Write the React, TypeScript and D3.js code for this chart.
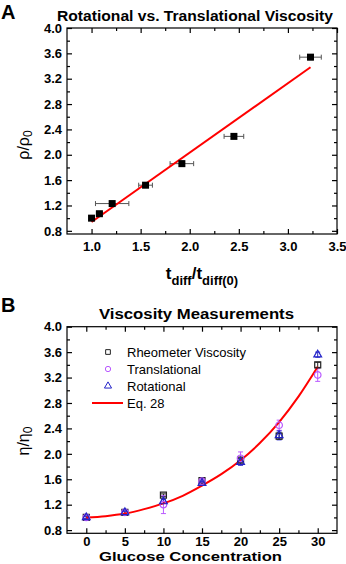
import React, { useEffect, useRef } from "react";
import * as d3 from "d3";

// panel A: rotational vs translational
const tRatio = [1.0, 1.08, 1.21, 1.55, 1.92, 2.45, 3.23];
const tRatioErr = [0.02, 0.03, 0.17, 0.07, 0.12, 0.1, 0.11];
const rhoRatio = [1.0, 1.07, 1.23, 1.52, 1.86, 2.29, 3.54];
const rhoErr = [0.02, 0.02, 0.03, 0.03, 0.04, 0.03, 0.04];
const fitX = [1.0, 3.23];
const fitY = [0.94, 3.38];

// panel B: viscosity measurements
const glucose = [0, 5, 10, 15, 20, 25, 30];
const rheometer = [1.0, 1.08, 1.35, 1.58, 1.9, 2.28, 3.4];
const rheometerErr = [0.02, 0.02, 0.02, 0.03, 0.03, 0.05, 0.04];
const translational = [1.0, 1.08, 1.2, 1.57, 1.93, 2.45, 3.24];
const translationalErr = [0.02, 0.02, 0.14, 0.03, 0.1, 0.08, 0.1];
const rotational = [1.0, 1.08, 1.25, 1.54, 1.87, 2.29, 3.56];
const rotationalErr = [0.02, 0.02, 0.03, 0.03, 0.05, 0.07, 0.04];
const eqX = [0, 2.5, 5, 7.5, 10, 12.5, 15, 17.5, 20, 22.5, 25, 27.5, 30];
const eqY = [1.0, 1.02, 1.06, 1.13, 1.22, 1.34, 1.5, 1.68, 1.9, 2.17, 2.5, 2.9, 3.37];

const yMajor = [0.8, 1.2, 1.6, 2.0, 2.4, 2.8, 3.2, 3.6, 4.0];
const yMinor = [1.0, 1.4, 1.8, 2.2, 2.6, 3.0, 3.4, 3.8];
const xMajorA = [1.0, 1.5, 2.0, 2.5, 3.0, 3.5];
const xMinorA = [1.25, 1.75, 2.25, 2.75, 3.25];
const xMajorB = [0, 5, 10, 15, 20, 25, 30];
const xMinorB = [2.5, 7.5, 12.5, 17.5, 22.5, 27.5];

const FONT = "'Liberation Sans', Arial, sans-serif";

function frame(g, x, y, xMajor, xMinor, xFmt, xPad) {
  const [x0, x1] = x.range();
  const [y0, y1] = y.range();
  g.append("rect").attr("x", x0).attr("y", y1).attr("width", x1 - x0).attr("height", y0 - y1)
    .attr("fill", "none").attr("stroke", "#000").attr("stroke-width", 1.2);

  const bottom = g.append("g").attr("transform", `translate(0,${y0})`)
    .call(d3.axisBottom(x).tickValues(xMajor).tickFormat(xFmt).tickSize(-5).tickPadding(xPad));
  g.append("g").attr("transform", `translate(0,${y0})`)
    .call(d3.axisBottom(x).tickValues(xMinor).tickFormat(() => "").tickSize(-3));
  g.append("g").attr("transform", `translate(0,${y1})`)
    .call(d3.axisTop(x).tickValues(xMajor).tickFormat(() => "").tickSize(-5));
  g.append("g").attr("transform", `translate(0,${y1})`)
    .call(d3.axisTop(x).tickValues(xMinor).tickFormat(() => "").tickSize(-3));

  const left = g.append("g").attr("transform", `translate(${x0},0)`)
    .call(d3.axisLeft(y).tickValues(yMajor).tickFormat(d3.format(".1f")).tickSize(-5).tickPadding(5));
  g.append("g").attr("transform", `translate(${x0},0)`)
    .call(d3.axisLeft(y).tickValues(yMinor).tickFormat(() => "").tickSize(-3));
  g.append("g").attr("transform", `translate(${x1},0)`)
    .call(d3.axisRight(y).tickValues(yMajor).tickFormat(() => "").tickSize(-5));
  g.append("g").attr("transform", `translate(${x1},0)`)
    .call(d3.axisRight(y).tickValues(yMinor).tickFormat(() => "").tickSize(-3));

  g.selectAll(".domain").remove();
  g.selectAll(".tick line").attr("stroke", "#000").attr("stroke-width", 1.2);
  [bottom, left].forEach(a => a.selectAll("text").attr("font-family", FONT)
    .attr("font-size", 13).attr("font-weight", "bold").attr("fill", "#000"));
}

function errBars(g, xs, ys, xerr, yerr, x, y, color) {
  const cap = 2.5;
  xs.forEach((xv, i) => {
    const px = x(xv), py = y(ys[i]);
    if (xerr) {
      const a = x(xv - xerr[i]), b = x(xv + xerr[i]);
      g.append("path").attr("d", `M${a},${py}H${b}M${a},${py - cap}V${py + cap}M${b},${py - cap}V${py + cap}`)
        .attr("stroke", color).attr("fill", "none").attr("stroke-width", 1);
    }
    if (yerr) {
      const a = y(ys[i] - yerr[i]), b = y(ys[i] + yerr[i]);
      g.append("path").attr("d", `M${px},${a}V${b}M${px - cap},${a}H${px + cap}M${px - cap},${b}H${px + cap}`)
        .attr("stroke", color).attr("fill", "none").attr("stroke-width", 1);
    }
  });
}

export default function App() {
  const ref = useRef(null);

  useEffect(() => {
    const svg = d3.select(ref.current);
    svg.selectAll("*").remove();

    // ---------- panel A ----------
    const xA = d3.scaleLinear().domain([0.75, 3.5]).range([67, 337]);
    const yA = d3.scaleLinear().domain([0.75, 4.0]).range([234, 28]);
    const gA = svg.append("g");

    gA.append("text").attr("x", 1).attr("y", 18.5).text("A")
      .attr("font-family", FONT).attr("font-size", 20).attr("font-weight", "bold");
    gA.append("text").attr("x", 57).attr("y", 20.7)
      .attr("textLength", 276).attr("lengthAdjust", "spacingAndGlyphs")
      .text("Rotational vs. Translational Viscosity")
      .attr("font-family", FONT).attr("font-size", 14).attr("font-weight", "bold");

    frame(gA, xA, yA, xMajorA, xMinorA, d3.format(".1f"), 8);

    errBars(gA, tRatio, rhoRatio, tRatioErr, rhoErr, xA, yA, "#555");
    gA.append("path")
      .attr("d", d3.line()(fitX.map((v, i) => [xA(v), yA(fitY[i])])))
      .attr("stroke", "#f00").attr("stroke-width", 2).attr("fill", "none");
    gA.selectAll(".sqA").data(tRatio).join("rect").attr("class", "sqA")
      .attr("x", (d) => xA(d) - 3.5).attr("y", (d, i) => yA(rhoRatio[i]) - 3.5)
      .attr("width", 7).attr("height", 7).attr("fill", "#000");

    const yLabA = gA.append("text").attr("transform", "translate(29,145) rotate(-90)")
      .attr("text-anchor", "middle").attr("font-family", FONT).attr("font-size", 16);
    yLabA.append("tspan").text("ρ/ρ");
    yLabA.append("tspan").text("0").attr("font-size", 12).attr("dy", 3);

    const xLabA = gA.append("text").attr("x", 202).attr("y", 279)
      .attr("text-anchor", "middle").attr("font-family", FONT).attr("font-weight", "bold").attr("font-size", 17);
    xLabA.append("tspan").text("t");
    xLabA.append("tspan").text("diff").attr("font-size", 13).attr("dy", 6);
    xLabA.append("tspan").text("/t").attr("dy", -6);
    xLabA.append("tspan").text("diff(0)").attr("font-size", 13).attr("dy", 6);

    // ---------- panel B ----------
    const xB = d3.scaleLinear().domain([-2.5, 32.5]).range([67, 337]);
    const yB = d3.scaleLinear().domain([0.75, 4.0]).range([533.3, 326.7]);
    const gB = svg.append("g");

    gB.append("text").attr("x", 1).attr("y", 312).text("B")
      .attr("font-family", FONT).attr("font-size", 20).attr("font-weight", "bold");
    gB.append("text").attr("x", 99).attr("y", 319)
      .attr("textLength", 195).attr("lengthAdjust", "spacingAndGlyphs")
      .text("Viscosity Measurements")
      .attr("font-family", FONT).attr("font-size", 14).attr("font-weight", "bold");

    frame(gB, xB, yB, xMajorB, xMinorB, d3.format("d"), 3);

    const black = "#222", violet = "#b959ff", blue = "#2323c8";
    errBars(gB, glucose, rheometer, null, rheometerErr, xB, yB, black);
    errBars(gB, glucose, translational, null, translationalErr, xB, yB, violet);
    errBars(gB, glucose, rotational, null, rotationalErr, xB, yB, blue);

    gB.append("path")
      .attr("d", d3.line().curve(d3.curveMonotoneX)(eqX.map((v, i) => [xB(v), yB(eqY[i])])))
      .attr("stroke", "#f00").attr("stroke-width", 2).attr("fill", "none");

    const sq = d3.symbol(d3.symbolSquare, 36);
    const circ = d3.symbol(d3.symbolCircle, 34);
    const tri = d3.symbol(d3.symbolTriangle, 26);
    gB.selectAll(".rh").data(glucose).join("path").attr("class", "rh")
      .attr("transform", (d, i) => `translate(${xB(d)},${yB(rheometer[i])})`)
      .attr("d", sq()).attr("fill", "none").attr("stroke", black).attr("stroke-width", 1.2);
    gB.selectAll(".tr").data(glucose).join("path").attr("class", "tr")
      .attr("transform", (d, i) => `translate(${xB(d)},${yB(translational[i])})`)
      .attr("d", circ()).attr("fill", "none").attr("stroke", violet).attr("stroke-width", 1.2);
    gB.selectAll(".ro").data(glucose).join("path").attr("class", "ro")
      .attr("transform", (d, i) => `translate(${xB(d)},${yB(rotational[i])})`)
      .attr("d", tri()).attr("fill", "none").attr("stroke", blue).attr("stroke-width", 1.2);

    // legend
    const legend = [
      { label: "Rheometer Viscosity", shape: sq, color: black, y: 352 },
      { label: "Translational", shape: circ, color: violet, y: 369 },
      { label: "Rotational", shape: tri, color: blue, y: 386 },
      { label: "Eq. 28", shape: null, color: "#f00", y: 403 },
    ];
    legend.forEach((l) => {
      if (l.shape) {
        gB.append("path").attr("transform", `translate(108,${l.y})`).attr("d", l.shape.size(22)())
          .attr("fill", "none").attr("stroke", l.color).attr("stroke-width", 1);
      } else {
        gB.append("line").attr("x1", 92).attr("x2", 123).attr("y1", l.y).attr("y2", l.y)
          .attr("stroke", l.color).attr("stroke-width", 2);
      }
      gB.append("text").attr("x", 127).attr("y", l.y).attr("dy", "0.35em").text(l.label)
        .attr("font-family", FONT).attr("font-size", 13).attr("fill", "#000");
    });

    const yLabB = gB.append("text").attr("transform", "translate(29,441) rotate(-90)")
      .attr("text-anchor", "middle").attr("font-family", FONT).attr("font-size", 16);
    yLabB.append("tspan").text("η/η");
    yLabB.append("tspan").text("0").attr("font-size", 12).attr("dy", 3);

    gB.append("text").attr("x", 99).attr("y", 561)
      .attr("textLength", 183).attr("lengthAdjust", "spacingAndGlyphs")
      .text("Glucose Concentration")
      .attr("font-family", FONT).attr("font-weight", "bold").attr("font-size", 13.5);
  }, []);

  return (
    <svg ref={ref} width={346} height={564}
      style={{ position: "absolute", left: 0, top: 0, background: "#fff" }} />
  );
}
